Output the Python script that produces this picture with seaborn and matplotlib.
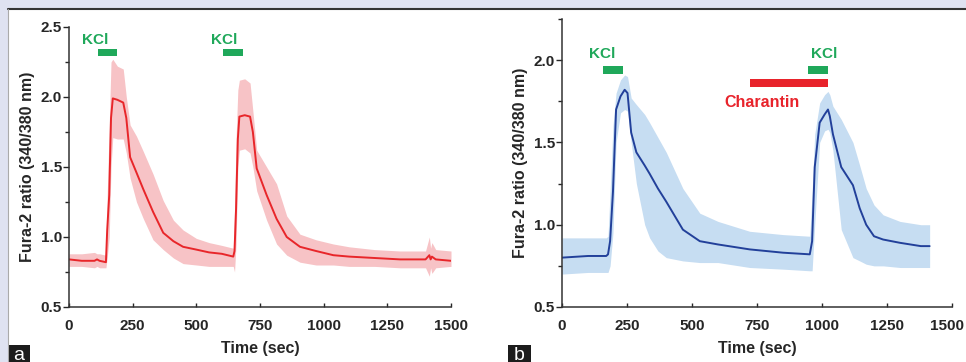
import pandas as pd
import matplotlib.pyplot as plt
import seaborn as sns
from matplotlib.patches import Rectangle
from matplotlib.lines import Line2D
from matplotlib.ticker import MultipleLocator, FormatStrFormatter
from matplotlib.transforms import ScaledTranslation

# Panel a: control, two KCl pulses (mean and SEM band)
a_time = [0, 50, 100, 110, 120, 145, 150, 158, 165, 172, 190, 213, 225, 240, 265, 292,
          330, 370, 410, 448, 500, 550, 600, 645, 650, 656, 663, 669, 690, 711, 722, 737,
          776, 815, 855, 907, 970, 1038, 1100, 1200, 1300, 1400, 1415, 1420, 1425, 1440, 1500]
a_mean = [0.84, 0.83, 0.83, 0.84, 0.83, 0.82, 1.05, 1.30, 1.85, 1.99, 1.98, 1.96, 1.85, 1.57, 1.46, 1.34,
          1.18, 1.03, 0.97, 0.93, 0.91, 0.89, 0.88, 0.86, 0.90, 1.20, 1.70, 1.86, 1.87, 1.86, 1.75, 1.49,
          1.30, 1.13, 1.00, 0.93, 0.90, 0.87, 0.86, 0.85, 0.84, 0.84, 0.87, 0.84, 0.86, 0.84, 0.83]
a_upper = [0.88, 0.88, 0.89, 0.88, 0.88, 0.87, 1.30, 1.80, 2.25, 2.27, 2.22, 2.20, 2.00, 1.80, 1.72, 1.61,
           1.45, 1.26, 1.12, 1.05, 0.99, 0.96, 0.94, 0.92, 1.20, 1.70, 2.05, 2.12, 2.13, 2.10, 1.90, 1.62,
           1.50, 1.38, 1.15, 1.02, 0.98, 0.95, 0.93, 0.91, 0.90, 0.90, 1.00, 0.92, 0.96, 0.91, 0.90]
a_lower = [0.79, 0.79, 0.78, 0.79, 0.78, 0.78, 0.85, 1.00, 1.50, 1.71, 1.70, 1.70, 1.60, 1.42, 1.25, 1.13,
           0.98, 0.91, 0.85, 0.81, 0.80, 0.79, 0.79, 0.79, 0.75, 0.95, 1.50, 1.62, 1.63, 1.60, 1.50, 1.33,
           1.12, 0.95, 0.87, 0.82, 0.80, 0.80, 0.79, 0.79, 0.78, 0.78, 0.72, 0.78, 0.74, 0.78, 0.79]

# Panel b: KCl, then charantin + KCl
b_time = [0, 100, 170, 177, 185, 196, 208, 225, 241, 252, 266, 286, 318, 337, 369, 401, 465, 530,
          600, 722, 850, 953, 962, 972, 991, 1010, 1023, 1030, 1042, 1074, 1119, 1145, 1170, 1200,
          1235, 1300, 1380, 1414]
b_mean = [0.80, 0.81, 0.81, 0.82, 0.90, 1.20, 1.70, 1.78, 1.82, 1.80, 1.56, 1.44, 1.36, 1.31, 1.22, 1.14, 0.97, 0.90,
          0.88, 0.85, 0.83, 0.82, 0.90, 1.35, 1.62, 1.67, 1.70, 1.66, 1.55, 1.35, 1.24, 1.10, 1.00, 0.93,
          0.91, 0.89, 0.87, 0.87]
b_upper = [0.92, 0.92, 0.92, 0.93, 1.20, 1.60, 1.80, 1.88, 1.91, 1.90, 1.77, 1.73, 1.67, 1.62, 1.53, 1.44, 1.22, 1.07,
           1.02, 0.96, 0.94, 0.93, 1.20, 1.55, 1.74, 1.79, 1.81, 1.79, 1.72, 1.64, 1.50, 1.36, 1.22, 1.12,
           1.06, 1.02, 1.00, 1.00]
b_lower = [0.70, 0.71, 0.71, 0.71, 0.75, 0.95, 1.50, 1.68, 1.70, 1.69, 1.50, 1.25, 1.00, 0.92, 0.84, 0.80, 0.78, 0.77,
           0.77, 0.74, 0.73, 0.72, 0.72, 1.00, 1.50, 1.57, 1.58, 1.56, 1.45, 0.97, 0.80, 0.78, 0.76, 0.75,
           0.75, 0.74, 0.74, 0.74]

# treatment periods (sec) and where their labels sit
kcl_a = [(113, 190), (606, 684)]
kcl_a_label = [104, 609]
kcl_b = [(159, 236), (947, 1022)]
kcl_b_label = [154, 1010]
charantin_b = (723, 1022)
charantin_label = 771
time_ticks = [0, 250, 500, 750, 1000, 1250, 1500]

GREEN = '#1fa85a'
RED = '#e8232b'

sns.set_theme(style='ticks')
plt.rcParams['font.family'] = ['Liberation Sans', 'DejaVu Sans']
plt.rcParams['font.weight'] = 'bold'


def draw_panel(ax, time, mean, lower, upper, line_color, band_color, ymax):
    df = pd.DataFrame({'time': time, 'mean': mean, 'lower': lower, 'upper': upper})
    ax.fill_between(df['time'], df['lower'], df['upper'], color=band_color, linewidth=0)
    sns.lineplot(data=df, x='time', y='mean', ax=ax, color=line_color, linewidth=1.4)
    ax.set_xlim(0, 1500)
    ax.set_ylim(0.5, ymax)
    ax.set_xticks(time_ticks)
    ax.yaxis.set_major_locator(MultipleLocator(0.5))
    ax.yaxis.set_minor_locator(MultipleLocator(0.25))
    ax.yaxis.set_major_formatter(FormatStrFormatter('%.1f'))
    ax.tick_params(axis='x', direction='in', length=3, width=1, labelsize=11, pad=8.5)
    ax.tick_params(axis='y', which='major', direction='out', length=4, width=1, labelsize=11, pad=1)
    ax.tick_params(axis='y', which='minor', direction='out', length=3, width=1)
    for s in ['top', 'right']:
        ax.spines[s].set_visible(False)
    for s in ['left', 'bottom']:
        ax.spines[s].set_color('#333333')
        ax.spines[s].set_linewidth(1.1)
    ax.set_xlabel('Time (sec)', fontsize=11.5, fontweight='bold', labelpad=6)
    ax.set_ylabel('Fura-2 ratio (340/380 nm)', fontsize=11.5, fontweight='bold', labelpad=4)


def add_bar(ax, start, end, y0, y1, color):
    ax.add_patch(Rectangle((start, y0), end - start, y1 - y0, color=color, linewidth=0, clip_on=False))


fig = plt.figure(figsize=(9.66, 3.62), dpi=100)
fig.patch.set_facecolor('#dfe2f1')
fig.add_artist(Rectangle((8 / 966, 0), 1, (362 - 8) / 362, transform=fig.transFigure,
                         facecolor='white', edgecolor='none', zorder=-5))
fig.add_artist(Line2D([8 / 966, 1], [(362 - 8.5) / 362] * 2, transform=fig.transFigure,
                      color='#333333', linewidth=1.5))
fig.add_artist(Line2D([8 / 966] * 2, [0, (362 - 8.5) / 362], transform=fig.transFigure,
                      color='#aaaaaa', linewidth=0.8))

ax_a = fig.add_axes([69 / 966, 55 / 362, 382 / 966, 280 / 362])
ax_b = fig.add_axes([562 / 966, 55 / 362, 390 / 966, 288 / 362])
for ax in (ax_a, ax_b):
    ax.set_facecolor('none')

draw_panel(ax_a, a_time, a_mean, a_lower, a_upper, '#e8262a', '#f7c3c6', 2.5)
for (start, end), tx in zip(kcl_a, kcl_a_label):
    add_bar(ax_a, start, end, 2.29, 2.345, GREEN)
    ax_a.text(tx, 2.41, 'KCl', color=GREEN, fontsize=11, fontweight='bold',
              ha='center', va='center')

draw_panel(ax_b, b_time, b_mean, b_lower, b_upper, '#22409a', '#c6ddf2', 2.25)
for (start, end), tx in zip(kcl_b, kcl_b_label):
    add_bar(ax_b, start, end, 1.915, 1.965, GREEN)
    ax_b.text(tx, 2.04, 'KCl', color=GREEN, fontsize=11, fontweight='bold',
              ha='center', va='center')
add_bar(ax_b, charantin_b[0], charantin_b[1], 1.835, 1.884, RED)
ax_b.text(charantin_label, 1.74, 'Charantin', color=RED, fontsize=11.5, fontweight='bold',
          ha='center', va='center')

# keep the last x tick label of panel b inside the figure
fig.canvas.draw()
for lbl in ax_b.get_xticklabels():
    if lbl.get_text() == '1500':
        lbl.set_transform(lbl.get_transform() + ScaledTranslation(-5 / 100, 0, fig.dpi_scale_trans))

# panel letters
for x0, w, letter in [(8, 22, 'a'), (508, 23, 'b')]:
    fig.add_artist(Rectangle((x0 / 966, 0), w / 966, 17 / 362, transform=fig.transFigure,
                             facecolor='#1c1c1c', edgecolor='none'))
    fig.text((x0 + w / 2) / 966, 7 / 362, letter, color='white', fontsize=14,
             fontweight='normal', ha='center', va='center')

fig.savefig('out.png', dpi=100, facecolor=fig.get_facecolor())
